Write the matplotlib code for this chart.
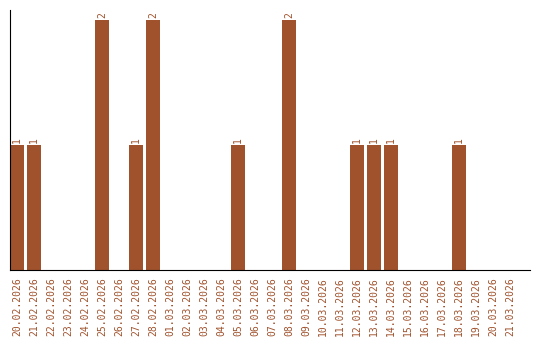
import matplotlib
matplotlib.use("Agg")
import matplotlib.pyplot as plt

dates = ["20.02.2026", "21.02.2026", "22.02.2026", "23.02.2026", "24.02.2026",
         "25.02.2026", "26.02.2026", "27.02.2026", "28.02.2026", "01.03.2026",
         "02.03.2026", "03.03.2026", "04.03.2026", "05.03.2026", "06.03.2026",
         "07.03.2026", "08.03.2026", "09.03.2026", "10.03.2026", "11.03.2026",
         "12.03.2026", "13.03.2026", "14.03.2026", "15.03.2026", "16.03.2026",
         "17.03.2026", "18.03.2026", "19.03.2026", "20.03.2026", "21.03.2026"]
counts = [1, 1, 0, 0, 0, 2, 0, 1, 2, 0, 0, 0, 0, 1, 0,
          0, 2, 0, 0, 0, 1, 1, 1, 0, 0, 0, 1, 0, 0, 0]

color = "#A0522D"

fig = plt.figure(figsize=(5.4, 3.4), dpi=100)
ax = fig.add_axes([10 / 540, 70 / 340, 520 / 540, 260 / 340])

x = list(range(len(dates)))
ax.bar(x, counts, width=14 / 17, color=color)
for xi, c in zip(x, counts):
    if c > 0:
        ax.text(xi, c + 0.02, str(c), rotation=90, ha="center", va="bottom",
                color=color, fontsize=7, family="DejaVu Sans Mono")

ax.set_xlim(-7 / 17, -7 / 17 + 520 / 17)
ax.set_ylim(0, 2.08)
ax.set_xticks(x)
ax.set_xticklabels(dates, rotation=90, color=color, fontsize=7,
                   family="DejaVu Sans Mono")
ax.tick_params(axis="x", length=0, pad=5)
ax.set_yticks([])
ax.spines["top"].set_visible(False)
ax.spines["right"].set_visible(False)

fig.savefig("out.png", dpi=100)
